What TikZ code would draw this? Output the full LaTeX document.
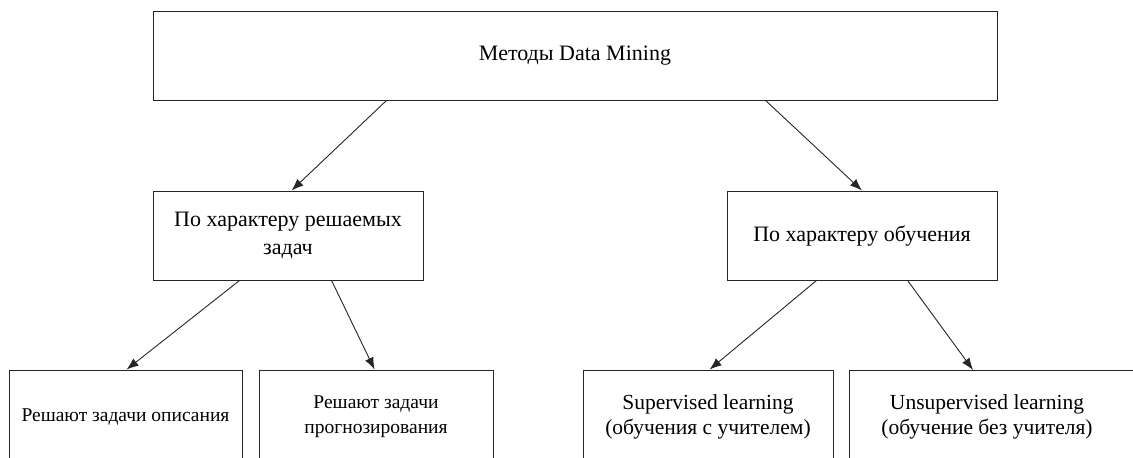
\documentclass[tikz,border=0pt]{standalone}
\usepackage{fontspec}
\setmainfont{Liberation Serif}
\usetikzlibrary{arrows.meta,calc}
\begin{document}
\begin{tikzpicture}[x=1pt,y=-1pt,
  box/.style={draw=black!85,line width=0.9pt,rectangle,align=center,inner sep=0pt,
    font=\fontsize{22}{28}\selectfont},
  small/.style={font=\fontsize{19.5}{25}\selectfont},
  mid/.style={font=\fontsize{21.5}{25}\selectfont},
  conn/.style={draw=black!85,line width=0.9pt,-{Latex[length=12pt,width=9pt]}}]
\clip (0,0) rectangle (1133,458);
\fill[white] (0,0) rectangle (1133,458);
\node[box,minimum width=844pt,minimum height=89pt] (top) at (575,55.5) {Методы Data Mining};
\node[box,minimum width=270pt,minimum height=89pt] (task) at (288,235.5) {По характеру решаемых\\задач};
\node[box,minimum width=270pt,minimum height=89pt] (learn) at (862,235.5) {По характеру обучения};
\node[box,small,minimum width=233pt,minimum height=94pt] (desc) at (125.5,417) {Решают задачи описания};
\node[box,small,minimum width=234pt,minimum height=94pt] (prog) at (376,417) {Решают задачи\\прогнозирования};
\node[box,mid,minimum width=250pt,minimum height=94pt] (sup) at (708,417) {Supervised learning\\(обучения с учителем)};
\draw[draw=black!85,line width=0.9pt] (849,370) rectangle (1150,470);
\coordinate (unsuptop) at (973,370);
\node[box,mid,draw=none] (unsup) at (987,417) {Unsupervised learning\\(обучение без учителя)};
\draw[conn] ($(top.south west)+(234,0)$) -- ($(task.north west)+(139,0)$);
\draw[conn] ($(top.south west)+(613,0)$) -- (learn.north);
\draw[conn] ($(task.south west)+(87,0)$) -- ($(desc.north west)+(118,0)$);
\draw[conn] ($(task.south west)+(179,0)$) -- ($(prog.north west)+(116,0)$);
\draw[conn] ($(learn.south west)+(90,0)$) -- ($(sup.north west)+(127,0)$);
\draw[conn] ($(learn.south west)+(181,0)$) -- (unsuptop);
\end{tikzpicture}
\end{document}
